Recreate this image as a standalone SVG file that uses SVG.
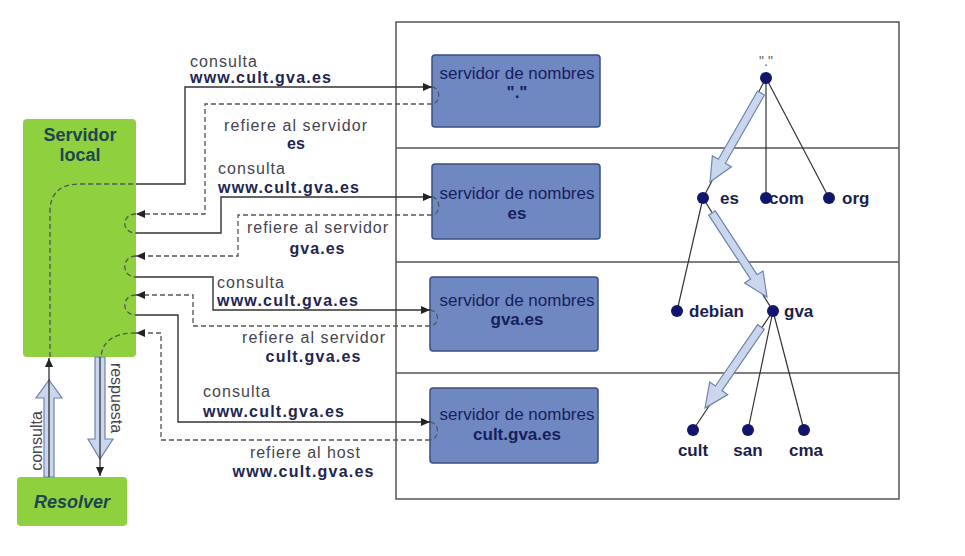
<svg xmlns="http://www.w3.org/2000/svg" width="965" height="556" viewBox="0 0 965 556">
<style>
text{font-family:"Liberation Sans",Arial,sans-serif}
.lbl{font-size:16px;fill:#45454f}
.bl{font-size:16px;font-weight:bold;fill:#1e2652}
.tl{font-size:17px;font-weight:bold;fill:#1b1f4d}
.solid{fill:none;stroke:#333;stroke-width:1.4}
.dash{fill:none;stroke:#555;stroke-width:1.3;stroke-dasharray:5 3}
.box{fill:#7088c2;stroke:#3a4f80;stroke-width:1.5}
.green{fill:#8ed03e}
.gt{font-size:18px;font-weight:bold;fill:#1f4650}
.edge{stroke:#333;stroke-width:1.2}
.dot{fill:#12156b}
.big{fill:#c9d6ee;stroke:#6f82ad;stroke-width:1.2}
</style>
<defs>
<marker id="ah" markerWidth="9" markerHeight="8" refX="9" refY="4" orient="auto" markerUnits="userSpaceOnUse">
<path d="M0,0 L9,4 L0,8 z" fill="#222"/>
</marker>
</defs>
<rect width="965" height="556" fill="#fff"/>

<g id="zones">
<rect x="396" y="22" width="503" height="477" fill="none" stroke="#555" stroke-width="1.5"/>
<line x1="396" y1="148" x2="899" y2="148" stroke="#555" stroke-width="1.5"/>
<line x1="396" y1="262" x2="899" y2="262" stroke="#555" stroke-width="1.5"/>
<line x1="396" y1="373" x2="899" y2="373" stroke="#555" stroke-width="1.5"/>
</g>

<g id="servidor-local">
<rect class="green" x="23" y="119" width="113" height="238" rx="4"/>
<text class="gt" x="80" y="141" text-anchor="middle">Servidor</text>
<text class="gt" x="80" y="161" text-anchor="middle">local</text>
</g>
<g id="resolver">
<rect class="green" x="17" y="477" width="110" height="49" rx="4"/>
<text class="gt" x="72" y="508" text-anchor="middle" font-style="italic">Resolver</text>
</g>

<g id="ns-root">
<rect class="box" x="432" y="55" width="168" height="72" rx="3"/>
<text x="517" y="79" text-anchor="middle" font-size="17" fill="#16205c">servidor de nombres</text>
<text x="517" y="98" text-anchor="middle" font-size="17" font-weight="bold" fill="#16205c">"."</text>
</g>
<g id="ns-es">
<rect class="box" x="432" y="164" width="168" height="75" rx="3"/>
<text x="517" y="199" text-anchor="middle" font-size="17" fill="#16205c">servidor de nombres</text>
<text x="517" y="219" text-anchor="middle" font-size="17" font-weight="bold" fill="#16205c">es</text>
</g>
<g id="ns-gva">
<rect class="box" x="430" y="277" width="168" height="74" rx="3"/>
<text x="517" y="306" text-anchor="middle" font-size="17" fill="#16205c">servidor de nombres</text>
<text x="517" y="325" text-anchor="middle" font-size="17" font-weight="bold" fill="#16205c">gva.es</text>
</g>
<g id="ns-cult">
<rect class="box" x="430" y="388" width="168" height="75" rx="3"/>
<text x="517" y="420" text-anchor="middle" font-size="17" fill="#16205c">servidor de nombres</text>
<text x="517" y="440" text-anchor="middle" font-size="17" font-weight="bold" fill="#16205c">cult.gva.es</text>
</g>

<g id="connectors">
<path class="solid" d="M136,184 H185 V87 H432" marker-end="url(#ah)"/>
<path class="solid" d="M136,233 H221 V197 H432" marker-end="url(#ah)"/>
<path class="solid" d="M136,277 H213 V310 H430" marker-end="url(#ah)"/>
<path class="solid" d="M136,315 H178 V422 H430" marker-end="url(#ah)"/>
<path class="dash" d="M432,104 H205 V214 H136" marker-end="url(#ah)"/>
<path class="dash" d="M432,215 H238 V256 H136" marker-end="url(#ah)"/>
<path class="dash" d="M430,326 H193 V295 H136" marker-end="url(#ah)"/>
<path class="dash" d="M430,440 H161 V333 H136" marker-end="url(#ah)"/>
<path class="dash" d="M136,214 C121,214 121,233 136,233"/>
<path class="dash" d="M136,256 C121,256 121,277 136,277"/>
<path class="dash" d="M136,295 C121,295 121,315 136,315"/>
<path class="dash" d="M432,87 C441,88 441,103 432,104"/>
<path class="dash" d="M432,197 C441,198 441,214 432,215"/>
<path class="dash" d="M430,310 C440,311 440,325 430,326"/>
<path class="dash" d="M430,422 C440,423 440,439 430,440"/>
<path class="dash" d="M50,357 V212 Q50,184 80,184 H136"/>
<path class="dash" d="M136,333 Q103,333 101,357"/>
<polygon class="big" points="44,477 44,398 36,398 49,380 62,398 54,398 54,477"/>
<line x1="49" y1="477" x2="49" y2="358" stroke="#222" stroke-width="1.2" marker-end="url(#ah)"/>
<polygon class="big" points="95,357 95,439 88,439 100,459 113,439 105,439 105,357"/>
<line x1="100" y1="357" x2="100" y2="476" stroke="#222" stroke-width="1.2" marker-end="url(#ah)"/>
</g>

<g id="labels">
<text class="lbl" x="190" y="67" textLength="67">consulta</text>
<text class="bl" x="190" y="83" textLength="141">www.cult.gva.es</text>
<text class="lbl" x="224" y="131" textLength="143">refiere al servidor</text>
<text class="bl" x="296" y="149" text-anchor="middle">es</text>
<text class="lbl" x="218" y="174" textLength="67">consulta</text>
<text class="bl" x="218" y="193" textLength="141">www.cult.gva.es</text>
<text class="lbl" x="247" y="233" textLength="141">refiere al servidor</text>
<text class="bl" x="317" y="254" text-anchor="middle" textLength="55">gva.es</text>
<text class="lbl" x="217" y="288" textLength="67">consulta</text>
<text class="bl" x="217" y="306" textLength="141">www.cult.gva.es</text>
<text class="lbl" x="242" y="343" textLength="143">refiere al servidor</text>
<text class="bl" x="313" y="362" text-anchor="middle" textLength="95">cult.gva.es</text>
<text class="lbl" x="203" y="397" textLength="67">consulta</text>
<text class="bl" x="203" y="417" textLength="141">www.cult.gva.es</text>
<text class="lbl" x="305" y="458" text-anchor="middle" textLength="110">refiere al host</text>
<text class="bl" x="303" y="477" text-anchor="middle" textLength="141">www.cult.gva.es</text>
<text class="lbl" transform="translate(42,441) rotate(-90)" text-anchor="middle">consulta</text>
<text class="lbl" transform="translate(111,398) rotate(90)" text-anchor="middle">respuesta</text>
</g>

<g id="tree">
<line class="edge" x1="766" y1="78" x2="703" y2="198"/>
<line class="edge" x1="766" y1="78" x2="766" y2="198"/>
<line class="edge" x1="766" y1="78" x2="829" y2="198"/>
<line class="edge" x1="703" y1="198" x2="677" y2="311"/>
<line class="edge" x1="703" y1="198" x2="773" y2="311"/>
<line class="edge" x1="773" y1="311" x2="693" y2="430"/>
<line class="edge" x1="773" y1="311" x2="748" y2="430"/>
<line class="edge" x1="773" y1="311" x2="804" y2="430"/>
<polygon class="big" points="764.5,95 725.4,163.2 731.4,166.7 710,182 712.4,155.7 718.4,159.2 757.5,91"/>
<polygon class="big" points="708.7,215.2 750.5,279.1 744.6,282.9 767,297 763,270.9 757.1,274.7 715.3,210.8"/>
<polygon class="big" points="757.7,324.7 715.4,386 709.7,382 705,408 727.7,394.6 722,390.6 764.3,329.3"/>
<g id="n-root"><circle class="dot" cx="766" cy="78" r="6"/><text x="766" y="66" text-anchor="middle" font-size="14" fill="#666">"."</text></g>
<g id="n-es"><circle class="dot" cx="703" cy="198" r="6"/><text class="tl" x="720" y="204">es</text></g>
<g id="n-com"><circle class="dot" cx="766" cy="198" r="6"/><text class="tl" x="769" y="204">com</text></g>
<g id="n-org"><circle class="dot" cx="829" cy="198" r="6"/><text class="tl" x="842" y="204">org</text></g>
<g id="n-debian"><circle class="dot" cx="677" cy="311" r="6"/><text class="tl" x="689" y="317">debian</text></g>
<g id="n-gva"><circle class="dot" cx="773" cy="311" r="6"/><text class="tl" x="784" y="317">gva</text></g>
<g id="n-cult"><circle class="dot" cx="693" cy="430" r="6"/><text class="tl" x="693" y="456" text-anchor="middle">cult</text></g>
<g id="n-san"><circle class="dot" cx="748" cy="430" r="6"/><text class="tl" x="748" y="456" text-anchor="middle">san</text></g>
<g id="n-cma"><circle class="dot" cx="804" cy="430" r="6"/><text class="tl" x="806" y="456" text-anchor="middle">cma</text></g>
</g>
</svg>
